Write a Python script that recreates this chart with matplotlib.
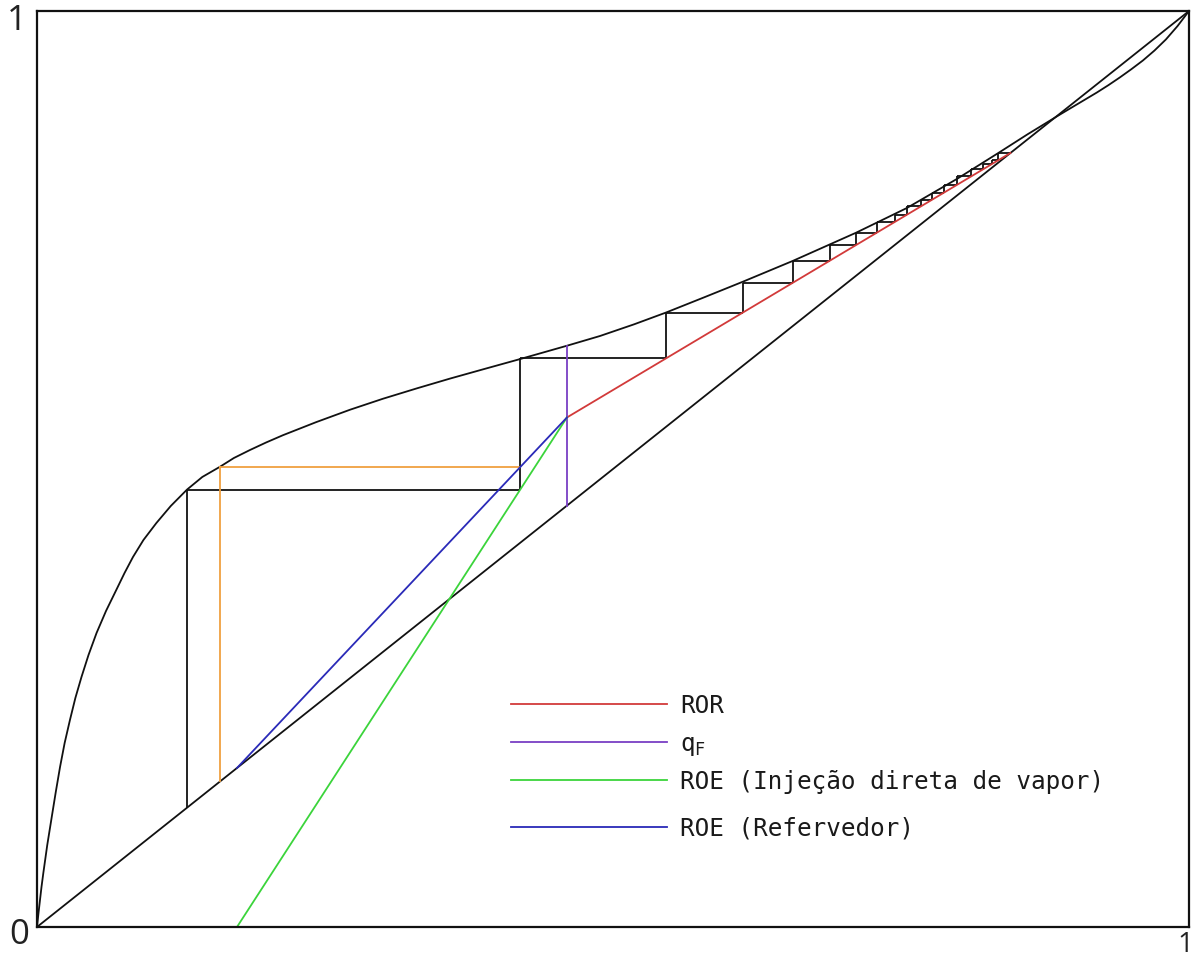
import numpy as np
import matplotlib
matplotlib.use("Agg")
import matplotlib.pyplot as plt

# ---------------- data ----------------
# equilibrium curve (x, y)
eq_x = [0.0, 0.0013, 0.0026, 0.0039, 0.0055, 0.0089, 0.0128, 0.0163, 0.0200,
        0.0240, 0.0286, 0.0333, 0.0386, 0.0447, 0.0517, 0.0599, 0.0688, 0.0760,
        0.0833, 0.0924, 0.1036, 0.1161, 0.1302, 0.1435, 0.1589, 0.1709, 0.1848,
        0.1988, 0.2135, 0.2422, 0.2717, 0.3003, 0.3299, 0.3585, 0.3872, 0.4193,
        0.4601, 0.4887, 0.5182, 0.5460, 0.5799, 0.6128, 0.6563, 0.7109, 0.7552,
        0.7986, 0.8345, 0.8600, 0.8837, 0.8900, 0.9000, 0.9100, 0.9200, 0.9300,
        0.9400, 0.9500, 0.9600, 0.9700, 0.9800, 0.9900, 1.0]
eq_y = [0.0, 0.0153, 0.0295, 0.0437, 0.0590, 0.0895, 0.1201, 0.1474, 0.1747,
        0.2009, 0.2260, 0.2500, 0.2729, 0.2969, 0.3210, 0.3450, 0.3679, 0.3865,
        0.4039, 0.4225, 0.4410, 0.4596, 0.4775, 0.4913, 0.5025, 0.5120, 0.5207,
        0.5289, 0.5369, 0.5511, 0.5647, 0.5767, 0.5881, 0.5987, 0.6088, 0.6200,
        0.6346, 0.6452, 0.6579, 0.6708, 0.6878, 0.7045, 0.7273, 0.7579, 0.7850,
        0.8167, 0.8450, 0.8655, 0.8837, 0.8885, 0.8960, 0.9035, 0.9110, 0.9190,
        0.9275, 0.9365, 0.9460, 0.9568, 0.9690, 0.9835, 1.0]

x_D = 0.845          # distillate composition
x_F = 0.46           # feed composition (q = 1, vertical feed line)
x_B = 0.1736         # bottoms composition
R = 3.0              # reflux ratio

# compositions of the stages (black staircase), from the top down
stage_x = [0.8345, 0.8290, 0.8212, 0.8108, 0.7986, 0.7873, 0.7769, 0.7674,
           0.7552, 0.7448, 0.7292, 0.7109, 0.6884, 0.6563, 0.6128, 0.5460,
           0.4193, 0.1302]
# stage composition for the reboiler case (orange) below the feed
reb_stage_x = [0.1589]

legend_labels = ["ROR", r"q$_\mathregular{F}$",
                 "ROE (Injeção direta de vapor)", "ROE (Refervedor)"]
legend_colors = ["#d23a3a", "#7a3fc4", "#3bd43b", "#2a2ab8"]

# ---------------- operating lines ----------------
def ror(x):
    return R / (R + 1) * x + x_D / (R + 1)

y_feed = ror(x_F)
m_steam = y_feed / (x_F - x_B)
m_reb = (y_feed - x_B) / (x_F - x_B)

def roe_steam(x):
    return m_steam * (x - x_B)

def roe_reb(x):
    return x_B + m_reb * (x - x_B)

# ---------------- figure ----------------
W, H = 1197, 960
fig = plt.figure(figsize=(W / 100, H / 100), dpi=100)
ax = fig.add_axes([37 / W, 1 - 927 / H, (1189 - 37) / W, (927 - 11) / H])
ax.set_xlim(0, 1)
ax.set_ylim(0, 1)
ax.set_xticks([])
ax.set_yticks([])
for s in ax.spines.values():
    s.set_linewidth(1.6)
    s.set_color("#111111")

blk = dict(color="#111111", lw=1.3, solid_capstyle="butt")

# diagonal and equilibrium curve
ax.plot([0, 1], [0, 1], **blk)
ax.plot(eq_x, eq_y, **blk)

# black staircase (ROR above the feed, direct steam ROE below)
x_prev, level = x_D, x_D
for xs in stage_x:
    ax.plot([x_prev, xs], [level, level], **blk)
    if xs > x_F:
        low = ror(xs)
    else:
        low = max(roe_steam(xs), xs)
    ax.plot([xs, xs], [level, low], **blk)
    x_prev, level = xs, low

# orange staircase (reboiler) from the stage at 0.4193
xs0 = stage_x[-2]
lvl = roe_reb(xs0)
for xs in reb_stage_x:
    ax.plot([xs0, xs], [lvl, lvl], color="#f0a040", lw=1.3)
    ax.plot([xs, xs], [lvl, xs], color="#f0a040", lw=1.3)

# operating lines
ax.plot([x_F, x_D], [y_feed, x_D], color=legend_colors[0], lw=1.3)
ax.plot([x_F, x_F], [x_F, np.interp(x_F, eq_x, eq_y)], color=legend_colors[1], lw=1.3)
ax.plot([x_B, x_F], [0, y_feed], color=legend_colors[2], lw=1.3)
ax.plot([x_B, x_F], [x_B, y_feed], color=legend_colors[3], lw=1.3)

# legend drawn inside the axes
leg_y = [0.2434, 0.2020, 0.1605, 0.1092]
for lab, col, yy in zip(legend_labels, legend_colors, leg_y):
    ax.plot([0.4115, 0.5469], [yy, yy], color=col, lw=1.3)
    ax.text(0.5580, yy - 0.0095, lab, fontsize=17.5, va="baseline", ha="left",
            color="#1a1a1a", family="DejaVu Sans Mono")

# corner labels
lab_kw = dict(color="#222222", family=["Open Sans", "DejaVu Sans"])
fig.text(17 / W, 1 - 21 / H, "1", fontsize=25, ha="center", va="center", **lab_kw)
fig.text(19 / W, 1 - 935 / H, "0", fontsize=25, ha="center", va="center", **lab_kw)
fig.text(1185 / W, 1 - 959 / H, "1", fontsize=20, ha="center", va="bottom", **lab_kw)

fig.savefig("out.png", dpi=100, facecolor="white")
